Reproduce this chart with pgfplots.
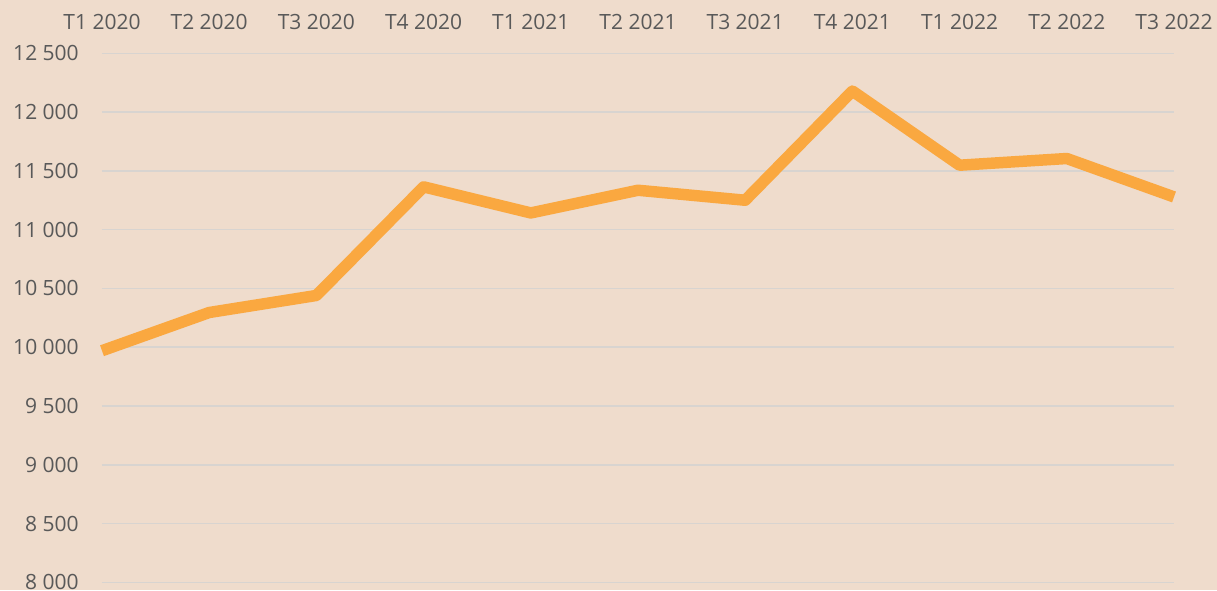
\documentclass[border=0pt]{standalone}
\usepackage{pgfplots}
\pgfplotsset{compat=1.18}
\usepackage{fontspec}
\setmainfont{Open Sans}
\definecolor{bg}{RGB}{239,220,204}
\definecolor{lineorange}{RGB}{250,168,64}
\definecolor{gridc}{RGB}{216,212,208}
\definecolor{txt}{RGB}{89,89,89}

\begin{document}
\begin{tikzpicture}[x=1pt,y=1pt]
\fill[bg] (0,0) rectangle (912.75,442.5);
\begin{axis}[
    at={(76.5pt,5.775pt)}, anchor=south west,
    width=804pt, height=396.75pt, scale only axis,
    xmin=0, xmax=10, ymin=8000, ymax=12500,
    xtick={0,...,10},
    xticklabels={T1 2020,T2 2020,T3 2020,T4 2020,T1 2021,T2 2021,
                 T3 2021,T4 2021,T1 2022,T2 2022,T3 2022},
    xticklabel pos=upper,
    ytick={8000,8500,...,12500},
    yticklabels={8 000,8 500,9 000,9 500,10 000,10 500,11 000,11 500,12 000,12 500},
    scaled y ticks=false,
    axis line style={draw=none},
    major tick length=0pt,
    ymajorgrids, grid style={gridc, line width=1.2pt},
    tick label style={font=\fontsize{15.75}{18}\selectfont, text=txt, inner sep=0pt},
    x tick label style={anchor=base, yshift=17.5pt},
    y tick label style={anchor=east, xshift=-17.25pt},
    clip=false,
]
\addplot[lineorange, line width=8.6pt, line join=round] coordinates {
    (0,9970) (1,10295) (2,10440) (3,11364) (4,11142) (5,11335)
    (6,11250) (7,12179) (8,11548) (9,11605) (10,11278)
};
\end{axis}
\pgfresetboundingbox
\path (0,0) rectangle (912.75,442.5);
\end{tikzpicture}
\end{document}
